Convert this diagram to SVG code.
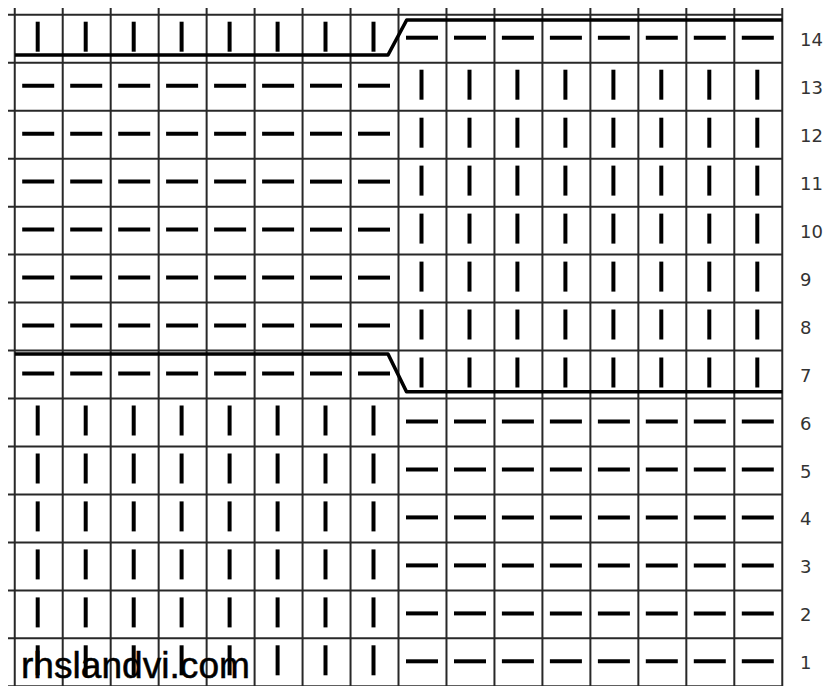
<svg xmlns="http://www.w3.org/2000/svg" xmlns:xlink="http://www.w3.org/1999/xlink" width="828" height="686" viewBox="0 0 828 686">
<style>
.grid line{stroke:#282828;stroke-width:2}
.sym{stroke:#000;stroke-width:4;stroke-linecap:butt}
.thick{fill:none;stroke:#000;stroke-width:3.6;stroke-linejoin:round}
.lbl{font-family:"DejaVu Sans",sans-serif;font-size:18px;fill:#333}
.wm{font-family:"Liberation Sans",Arial,sans-serif;font-size:37px;fill:#000;stroke:#000;stroke-width:0.5}
</style>
<defs>
<line id="b" class="sym" x1="0" y1="-17" x2="0" y2="13"/>
<line id="d" class="sym" x1="-16.5" y1="-1" x2="15.5" y2="-1"/>
<g id="bl">
<use xlink:href="#b" x="37.7"/><use xlink:href="#b" x="85.7"/><use xlink:href="#b" x="133.7"/><use xlink:href="#b" x="181.6"/>
<use xlink:href="#b" x="229.6"/><use xlink:href="#b" x="277.6"/><use xlink:href="#b" x="325.5"/><use xlink:href="#b" x="373.5"/>
</g>
<g id="br">
<use xlink:href="#b" x="421.5"/><use xlink:href="#b" x="469.5"/><use xlink:href="#b" x="517.4"/><use xlink:href="#b" x="565.4"/>
<use xlink:href="#b" x="613.4"/><use xlink:href="#b" x="661.3"/><use xlink:href="#b" x="709.3"/><use xlink:href="#b" x="757.3"/>
</g>
<g id="dl">
<use xlink:href="#d" x="38.7"/><use xlink:href="#d" x="86.7"/><use xlink:href="#d" x="134.7"/><use xlink:href="#d" x="182.6"/>
<use xlink:href="#d" x="230.6"/><use xlink:href="#d" x="278.6"/><use xlink:href="#d" x="326.5"/><use xlink:href="#d" x="374.5"/>
</g>
<g id="dr">
<use xlink:href="#d" x="422.5"/><use xlink:href="#d" x="470.5"/><use xlink:href="#d" x="518.4"/><use xlink:href="#d" x="566.4"/>
<use xlink:href="#d" x="614.4"/><use xlink:href="#d" x="662.3"/><use xlink:href="#d" x="710.3"/><use xlink:href="#d" x="758.3"/>
</g>
</defs>
<rect width="828" height="686" fill="#fff"/>
<g id="grid" class="grid">
<line x1="8" y1="14.75" x2="782.3" y2="14.75"/>
<line x1="8" y1="62.72" x2="782.3" y2="62.72"/>
<line x1="8" y1="110.69" x2="782.3" y2="110.69"/>
<line x1="8" y1="158.66" x2="782.3" y2="158.66"/>
<line x1="8" y1="206.63" x2="782.3" y2="206.63"/>
<line x1="8" y1="254.6" x2="782.3" y2="254.6"/>
<line x1="8" y1="302.57" x2="782.3" y2="302.57"/>
<line x1="8" y1="350.54" x2="782.3" y2="350.54"/>
<line x1="8" y1="398.51" x2="782.3" y2="398.51"/>
<line x1="8" y1="446.48" x2="782.3" y2="446.48"/>
<line x1="8" y1="494.45" x2="782.3" y2="494.45"/>
<line x1="8" y1="542.42" x2="782.3" y2="542.42"/>
<line x1="8" y1="590.39" x2="782.3" y2="590.39"/>
<line x1="8" y1="638.36" x2="782.3" y2="638.36"/>
<line x1="8" y1="686.33" x2="782.3" y2="686.33"/>
<line x1="14.75" y1="8" x2="14.75" y2="686"/>
<line x1="62.72" y1="8" x2="62.72" y2="686"/>
<line x1="110.69" y1="8" x2="110.69" y2="686"/>
<line x1="158.66" y1="8" x2="158.66" y2="686"/>
<line x1="206.63" y1="8" x2="206.63" y2="686"/>
<line x1="254.6" y1="8" x2="254.6" y2="686"/>
<line x1="302.57" y1="8" x2="302.57" y2="686"/>
<line x1="350.54" y1="8" x2="350.54" y2="686"/>
<line x1="398.51" y1="8" x2="398.51" y2="686"/>
<line x1="446.48" y1="8" x2="446.48" y2="686"/>
<line x1="494.45" y1="8" x2="494.45" y2="686"/>
<line x1="542.42" y1="8" x2="542.42" y2="686"/>
<line x1="590.39" y1="8" x2="590.39" y2="686"/>
<line x1="638.36" y1="8" x2="638.36" y2="686"/>
<line x1="686.33" y1="8" x2="686.33" y2="686"/>
<line x1="734.3" y1="8" x2="734.3" y2="686"/>
<line x1="782.27" y1="8" x2="782.27" y2="686"/>
</g>
<g id="stitches">
<use xlink:href="#bl" y="38.7"/><use xlink:href="#dr" y="38.7"/>
<use xlink:href="#dl" y="86.7"/><use xlink:href="#br" y="86.7"/>
<use xlink:href="#dl" y="134.7"/><use xlink:href="#br" y="134.7"/>
<use xlink:href="#dl" y="182.6"/><use xlink:href="#br" y="182.6"/>
<use xlink:href="#dl" y="230.6"/><use xlink:href="#br" y="230.6"/>
<use xlink:href="#dl" y="278.6"/><use xlink:href="#br" y="278.6"/>
<use xlink:href="#dl" y="326.5"/><use xlink:href="#br" y="326.5"/>
<use xlink:href="#dl" y="374.5"/><use xlink:href="#br" y="374.5"/>
<use xlink:href="#bl" y="422.5"/><use xlink:href="#dr" y="422.5"/>
<use xlink:href="#bl" y="470.5"/><use xlink:href="#dr" y="470.5"/>
<use xlink:href="#bl" y="518.4"/><use xlink:href="#dr" y="518.4"/>
<use xlink:href="#bl" y="566.4"/><use xlink:href="#dr" y="566.4"/>
<use xlink:href="#bl" y="614.4"/><use xlink:href="#dr" y="614.4"/>
<use xlink:href="#bl" y="662.3"/><use xlink:href="#dr" y="662.3"/>
</g>
<g id="boundaries">
<path class="thick" d="M15,55 H388 L406.7,20 H782.3"/>
<path class="thick" d="M15,354 H388 L406.5,391.7 H782.3"/>
</g>
<g id="row-labels">
<text class="lbl" x="800" y="45.7">14</text>
<text class="lbl" x="800" y="93.7">13</text>
<text class="lbl" x="800" y="141.7">12</text>
<text class="lbl" x="800" y="189.6">11</text>
<text class="lbl" x="800" y="237.6">10</text>
<text class="lbl" x="800" y="285.6">9</text>
<text class="lbl" x="800" y="333.5">8</text>
<text class="lbl" x="800" y="381.5">7</text>
<text class="lbl" x="800" y="429.5">6</text>
<text class="lbl" x="800" y="477.5">5</text>
<text class="lbl" x="800" y="525.4">4</text>
<text class="lbl" x="800" y="573.4">3</text>
<text class="lbl" x="800" y="621.4">2</text>
<text class="lbl" x="800" y="669.3">1</text>
</g>
<text class="wm" x="21" y="678" textLength="229" lengthAdjust="spacingAndGlyphs">rhslandvi.com</text>
</svg>
